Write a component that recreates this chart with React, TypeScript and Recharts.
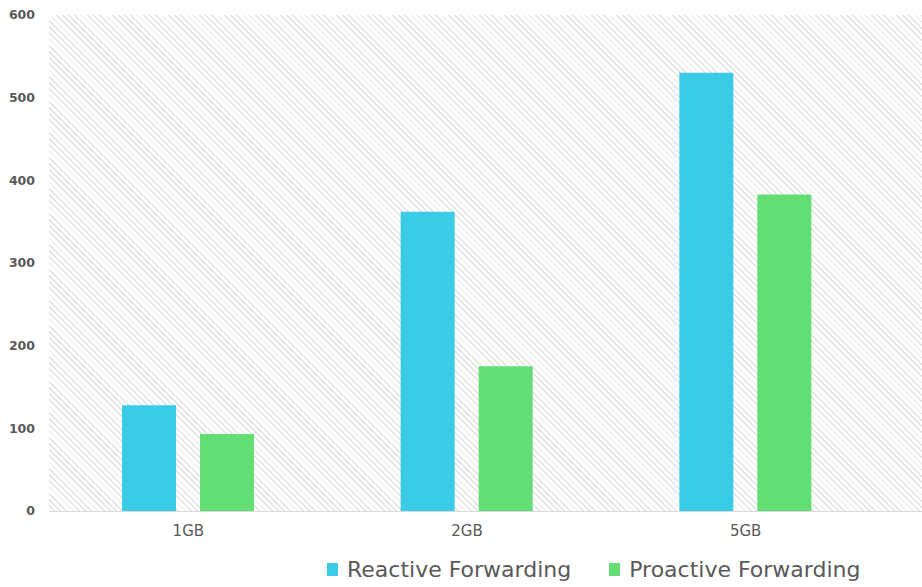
import React from 'react';
import { BarChart, Bar, XAxis, YAxis } from 'recharts';

const categories = ['1GB', '2GB', '5GB'];
const reactive = [128, 362, 530];
const proactive = [93, 175, 383];
const yTicks = [0, 100, 200, 300, 400, 500, 600];

const REACTIVE = '#3ACCE6';
const PROACTIVE = '#62DE75';

const data = categories.map((name, i) => ({
  name,
  reactive: reactive[i],
  proactive: proactive[i],
}));

const font = '"DejaVu Sans", Verdana, sans-serif';

const App: React.FC = () => {
  return (
    <div style={{ position: 'absolute', left: 0, top: 0, width: 922, height: 587, background: '#fff' }}>
      {/* hatched plot background, runs past the last band to the right edge */}
      <div
        style={{
          position: 'absolute',
          left: 49,
          top: 15,
          width: 873,
          height: 496,
          background:
            'repeating-linear-gradient(45deg, #ffffff 0px, #ffffff 3.2px, #e2e2e2 3.2px, #e2e2e2 4.4px)',
        }}
      />
      <div style={{ position: 'absolute', left: 49, top: 511, width: 873, height: 1, background: '#d9d9d9' }} />
      <div style={{ position: 'absolute', left: 0, top: 0 }}>
        <BarChart
          width={922}
          height={587}
          data={data}
          margin={{ top: 15, right: 37, left: 0, bottom: 46 }}
          barSize={54}
          barGap={24}
          barCategoryGap={73}
        >
          <XAxis
            dataKey="name"
            height={30}
            axisLine={false}
            tickLine={false}
            tick={{ fontSize: 15, fill: '#595959', fontFamily: font }}
            tickMargin={8}
          />
          <YAxis
            width={49}
            domain={[0, 600]}
            ticks={yTicks}
            axisLine={false}
            tickLine={false}
            tick={{ fontSize: 12.5, fill: '#595959', fontFamily: font, fontWeight: 'bold' }}
            tickMargin={8}
          />
          <Bar dataKey="reactive" name="Reactive Forwarding" fill={REACTIVE} isAnimationActive={false} />
          <Bar dataKey="proactive" name="Proactive Forwarding" fill={PROACTIVE} isAnimationActive={false} />
        </BarChart>
      </div>
      <div
        style={{
          position: 'absolute',
          left: 327,
          top: 557,
          display: 'flex',
          fontFamily: font,
          fontSize: 22,
          color: '#595959',
          whiteSpace: 'nowrap',
        }}
      >
        {[
          { label: 'Reactive Forwarding', color: REACTIVE },
          { label: 'Proactive Forwarding', color: PROACTIVE },
        ].map((item) => (
          <div key={item.label} style={{ display: 'flex', alignItems: 'center', marginRight: 38 }}>
            <span style={{ display: 'inline-block', width: 11, height: 13, background: item.color, marginRight: 9 }} />
            <span>{item.label}</span>
          </div>
        ))}
      </div>
    </div>
  );
};

export default App;
